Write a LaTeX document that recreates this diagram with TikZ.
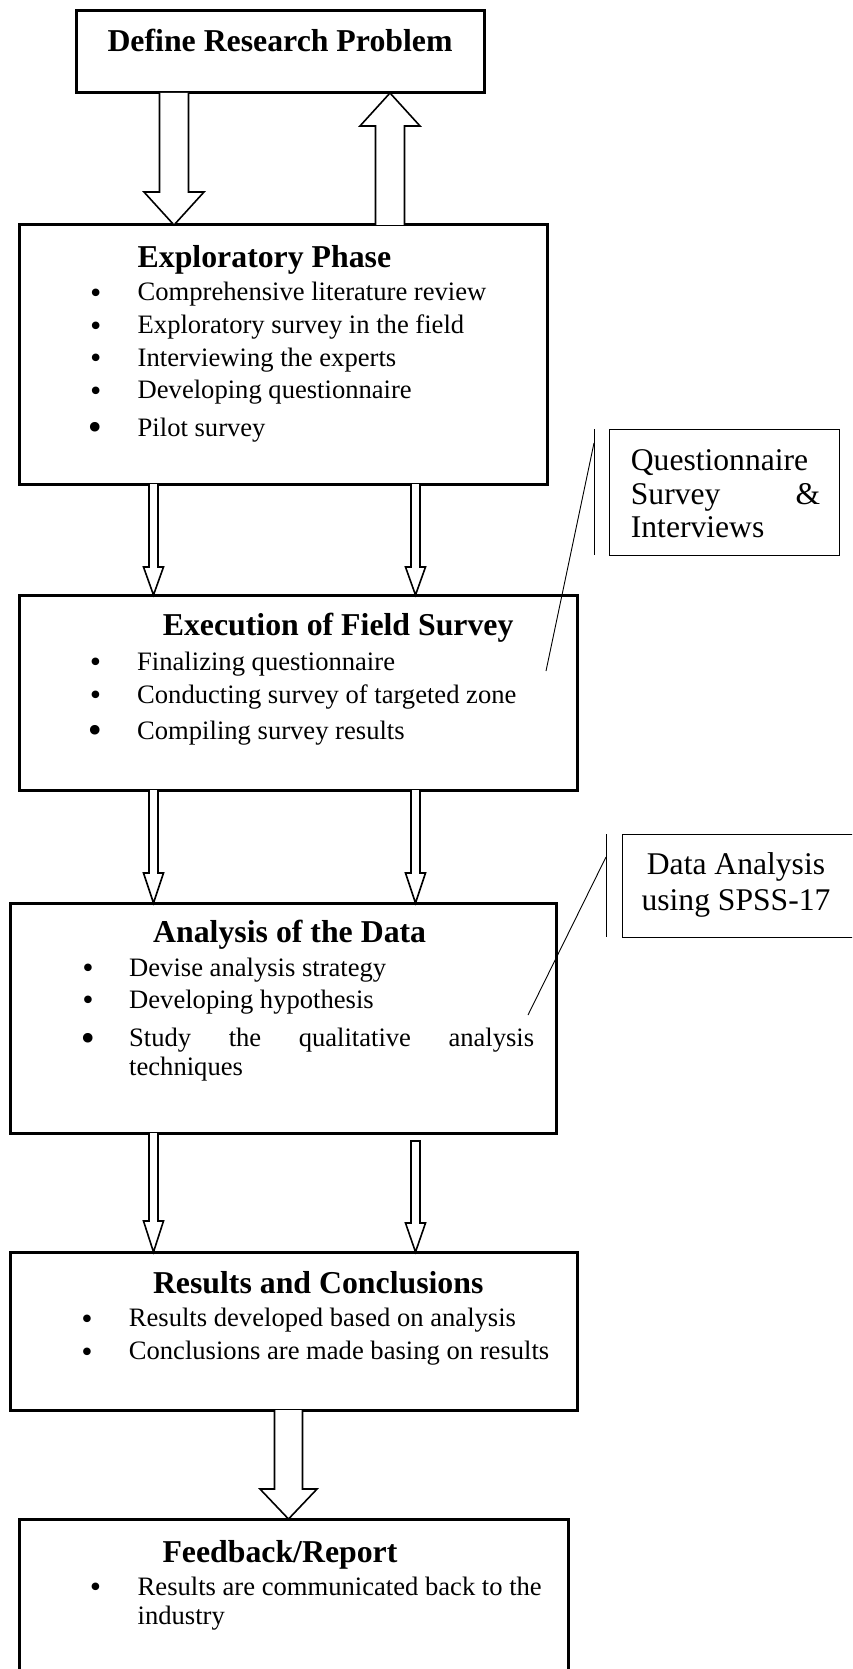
\documentclass[tikz,border=0pt]{standalone}
\usepackage{fontspec}
\setmainfont{Liberation Serif}
\newfontfamily\bulfont{DejaVu Sans}
\usetikzlibrary{calc}
\tikzset{
  mainbox/.style={draw, line width=3pt, rectangle, inner sep=0pt, outer sep=0pt, anchor=north west},
  sidebox/.style={draw, line width=1pt, rectangle, inner sep=0pt, outer sep=0pt, anchor=north west},
  thinline/.style={line width=0.9pt},
  blockarrow/.style={draw, line width=1.6pt, line join=miter, fill=white},
  titletext/.style={font=\fontsize{31.8}{38}\selectfont\bfseries, inner sep=0pt},
  itemtext/.style={font=\fontsize{26.6}{32}\selectfont, inner sep=0pt, anchor=base west},
  bul/.style={font=\bulfont\fontsize{26}{30}\selectfont, inner sep=0pt, anchor=base, yshift=-1.5pt},
  bigbul/.style={font=\bulfont\fontsize{33}{34}\selectfont, inner sep=0pt, anchor=base, yshift=-3.5pt},
  sidetext/.style={font=\fontsize{31.6}{37}\selectfont, inner sep=0pt},
}
% x, from, to, shaft half width, head half width, head length
\newcommand\arrdown[6]{%
  \draw[blockarrow] let \p1=(#2), \p2=(#3) in
   (#1pt-#4pt,\y1) -- (#1pt-#4pt,\y2+#6pt) -- (#1pt-#5pt,\y2+#6pt) -- (#1pt,\y2)
   -- (#1pt+#5pt,\y2+#6pt) -- (#1pt+#4pt,\y2+#6pt) -- (#1pt+#4pt,\y1);}
\newcommand\arrdowngap[7]{%
  \draw[blockarrow] let \p1=(#2), \p2=(#3) in
   (#1pt-#4pt,\y1-#7pt) -- (#1pt-#4pt,\y2+#6pt) -- (#1pt-#5pt,\y2+#6pt) -- (#1pt,\y2)
   -- (#1pt+#5pt,\y2+#6pt) -- (#1pt+#4pt,\y2+#6pt) -- (#1pt+#4pt,\y1-#7pt) -- cycle;}
\newcommand\arrup[6]{%
  \draw[blockarrow] let \p1=(#2), \p2=(#3) in
   (#1pt-#4pt,\y1) -- (#1pt-#4pt,\y2-#6pt) -- (#1pt-#5pt,\y2-#6pt) -- (#1pt,\y2)
   -- (#1pt+#5pt,\y2-#6pt) -- (#1pt+#4pt,\y2-#6pt) -- (#1pt+#4pt,\y1);}
\begin{document}
\begin{tikzpicture}[x=1pt,y=-1pt]
\useasboundingbox (0,0) rectangle (852,1669);
\clip (0,0) rectangle (852,1669);
\fill[white] (0,0) rectangle (852,1669);

% ---------- boxes ----------
\node[mainbox, minimum width=408pt, minimum height=82pt] (def) at (76,11) {};
\node[mainbox, minimum width=528pt, minimum height=259pt] (expl) at (19,225) {};
\node[mainbox, minimum width=558pt, minimum height=195pt] (exec) at (19,595) {};
\node[mainbox, minimum width=545.4pt, minimum height=230pt] (anal) at (10.6,903) {};
\node[mainbox, minimum width=566.4pt, minimum height=158pt] (res) at (10.6,1252) {};
\node[mainbox, minimum width=549pt, minimum height=200pt] (feed) at (19,1519) {};

% ---------- texts: Define ----------
\node[titletext, anchor=base] (deft) at (280,52) {Define Research Problem};

% ---------- Exploratory ----------
\node[titletext, anchor=base west] (explt) at (137.5,267.7) {Exploratory Phase};
\node[bul] (eb1) at (95.7,301) {•};
\node[itemtext] (ei1) at (137.5,301) {Comprehensive literature review};
\node[bul] (eb2) at (95.7,333.5) {•};
\node[itemtext] (ei2) at (137.5,333.5) {Exploratory survey in the field};
\node[bul] (eb3) at (95.7,366) {•};
\node[itemtext] (ei3) at (137.5,366) {Interviewing the experts};
\node[bul] (eb4) at (95.7,398.5) {•};
\node[itemtext] (ei4) at (137.5,398.5) {Developing questionnaire};
\node[bigbul] (eb5) at (95.7,436) {•};
\node[itemtext] (ei5) at (137.5,436) {Pilot survey};

% ---------- Execution ----------
\node[titletext, anchor=base west] (exect) at (162.6,635) {Execution of Field Survey};
\node[bul] (xb1) at (95.5,670) {•};
\node[itemtext] (xi1) at (137,670) {Finalizing questionnaire};
\node[bul] (xb2) at (95.5,703.3) {•};
\node[itemtext] (xi2) at (137,703.3) {Conducting survey of targeted zone};
\node[bigbul] (xb3) at (95.5,739.3) {•};
\node[itemtext] (xi3) at (137,739.3) {Compiling survey results};

% ---------- Analysis ----------
\node[titletext, anchor=base west] (analt) at (153,942.7) {Analysis of the Data};
\node[bul] (ab1) at (88,976) {•};
\node[itemtext] (ai1) at (129,976) {Devise analysis strategy};
\node[bul] (ab2) at (88,1008) {•};
\node[itemtext] (ai2) at (129,1008) {Developing hypothesis};
\node[bigbul] (ab3) at (88,1046.7) {•};
\node[itemtext] (ai3) at (129,1046.7) {\makebox[405pt][s]{Study the qualitative analysis}};
\node[itemtext] (ai4) at (129,1075) {techniques};

% ---------- Results ----------
\node[titletext, anchor=base west] (rest) at (152.8,1293.3) {Results and Conclusions};
\node[bul] (rb1) at (87,1326.6) {•};
\node[itemtext] (ri1) at (128.7,1326.6) {Results developed based on analysis};
\node[bul] (rb2) at (87,1359.8) {•};
\node[itemtext] (ri2) at (128.7,1359.8) {Conclusions are made basing on results};

% ---------- Feedback ----------
\node[titletext, anchor=base west] (feedt) at (162.3,1562) {Feedback/Report};
\node[bul] (fb1) at (95.5,1595) {•};
\node[itemtext] (fi1) at (137.5,1595) {Results are communicated back to the};
\node[itemtext] (fi2) at (137.5,1624.2) {industry};

% ---------- arrows ----------
\arrdown{174}{def.south}{expl.north}{14.5}{30}{33}
\arrup{390}{expl.north}{def.south}{14.5}{30}{33}
\arrdown{153.5}{expl.south}{exec.north}{4.5}{10}{28}
\arrdown{415.5}{expl.south}{exec.north}{4.5}{10}{28}
\arrdown{153.5}{exec.south}{anal.north}{4.5}{10}{30}
\arrdown{415.5}{exec.south}{anal.north}{4.5}{10}{30}
\arrdown{153.5}{anal.south}{res.north}{4.5}{10}{31}
\arrdowngap{415.5}{anal.south}{res.north}{4.5}{10}{29}{8}
\arrdown{288.5}{res.south}{feed.north}{14}{28.5}{30}

% ---------- side box: questionnaire ----------
\node[sidebox, minimum width=230pt, minimum height=126pt] (qbox) at (609,429) {};
\node[sidetext, anchor=base west] (q1) at (630.7,470) {Questionnaire};
\node[sidetext, anchor=base west] (q2) at (630.7,504) {\makebox[189.3pt][l]{Survey\hfill\&}};
\node[sidetext, anchor=base west] (q3) at (630.7,537.5) {Interviews};
\coordinate (qv1) at (594,429);
\coordinate (qv2) at (594,555);
\coordinate (qs) at (594,443);
\coordinate (qe) at (546,671);
\draw[thinline] (qv1) -- (qv2);
\draw[thinline] (qs) -- (qe);

% ---------- side box: data analysis ----------
\node[sidebox, minimum width=248pt, minimum height=103pt] (dbox) at (622,834) {};
\node[sidetext, anchor=base] (d1) at (736,874) {Data Analysis};
\node[sidetext, anchor=base] (d2) at (736,910) {using SPSS-17};
\coordinate (dv1) at (606,834);
\coordinate (dv2) at (606,937);
\coordinate (ds) at (606,857);
\coordinate (de) at (528,1015);
\draw[thinline] (dv1) -- (dv2);
\draw[thinline] (ds) -- (de);
\end{tikzpicture}
\end{document}
